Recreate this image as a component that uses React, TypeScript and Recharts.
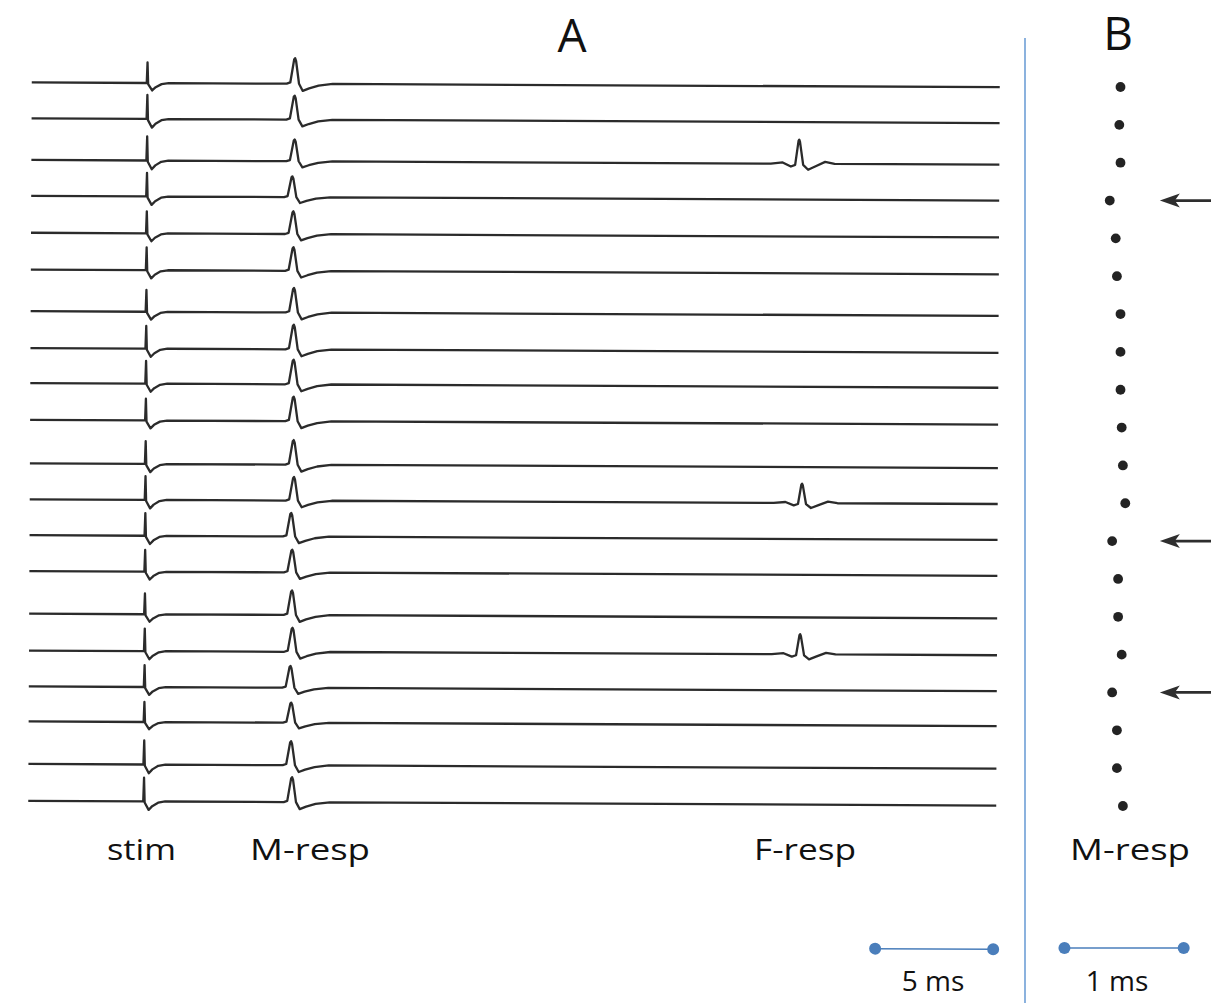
import React from 'react';
import {
  LineChart,
  Line,
  XAxis,
  YAxis,
  ScatterChart,
  Scatter,
  ReferenceLine,
  ReferenceDot,
} from 'recharts';

// ---- Sweep data (time in ms relative to the stimulus, amplitude in mV) ----
const SWEEP_START = -4.9;
const SWEEP_END = 36.1;

// Stacked baseline level of each of the 20 sweeps (top to bottom)
const trialOffsets = [
  40.0, 38.1, 35.9, 34.0, 32.05, 30.1, 27.9, 25.95, 24.1, 22.15,
  19.85, 17.95, 16.05, 14.15, 11.9, 9.95, 8.05, 6.2, 3.95, 2.0,
];

// Stimulus artefact height per sweep
const stimAmp = [
  1.09, 1.27, 1.27, 1.24, 1.16, 1.2, 1.15, 1.2, 1.2, 1.15,
  1.2, 1.25, 1.2, 1.15, 1.1, 1.19, 1.15, 1.06, 1.27, 1.25,
];

// M-response peak latency (ms) and amplitude per sweep
const mLatency = [
  6.25, 6.24, 6.25, 6.16, 6.21, 6.22, 6.25, 6.25, 6.25, 6.26,
  6.27, 6.29, 6.18, 6.23, 6.23, 6.26, 6.18, 6.22, 6.22, 6.27,
];
const mAmp = [
  1.35, 1.27, 1.15, 1.1, 1.2, 1.25, 1.3, 1.3, 1.3, 1.3,
  1.3, 1.25, 1.25, 1.2, 1.3, 1.27, 1.15, 1.06, 1.27, 1.32,
];

// Sweeps that carry an F-response
const fTrials = [3, 12, 16];
const fLatency = [27.62, 27.81, 27.76];
const fAmp = [1.27, 1.03, 1.06];

// Sweeps flagged with an arrow in panel B
const arrowTrials = [4, 13, 17];

// Normalised waveform shapes: [time from event (ms), relative amplitude]
const stimShape: [number, number][] = [
  [-0.03, 0], [0, 1], [0.03, -0.05], [0.2, -0.36], [0.35, -0.2], [0.6, -0.05], [0.9, 0],
];
const mShape: [number, number][] = [
  [-0.35, 0], [-0.2, 0.05], [-0.04, 0.95], [0, 1], [0.04, 0.9], [0.17, 0], [0.33, -0.28],
  [0.6, -0.18], [1.0, -0.07], [1.6, 0],
];
const fShape: [number, number][] = [
  [-1.2, 0], [-0.7, 0.05], [-0.35, -0.12], [-0.17, -0.05], [-0.03, 0.95], [0, 1], [0.03, 0.92],
  [0.17, -0.05], [0.38, -0.25], [0.7, -0.1], [1.1, 0.08], [1.5, 0],
];

type Pt = { t: number; v: number };

const sweeps: Pt[][] = trialOffsets.map((base, i) => {
  const pts: Pt[] = [{ t: SWEEP_START, v: base }];
  stimShape.forEach(([dt, a]) => pts.push({ t: dt, v: base + a * stimAmp[i] }));
  mShape.forEach(([dt, a]) => pts.push({ t: mLatency[i] + dt, v: base + a * mAmp[i] }));
  const f = fTrials.indexOf(i + 1);
  if (f >= 0) {
    fShape.forEach(([dt, a]) => pts.push({ t: fLatency[f] + dt, v: base + a * fAmp[f] }));
  }
  pts.push({ t: SWEEP_END, v: base });
  return pts.sort((a, b) => a.t - b.t);
});

const latencyDots = mLatency.map((lat, i) => ({ lat, trial: i + 1 }));
const ARROW_TIP = 6.58;
const arrowMarks = arrowTrials.map((trial) => ({ lat: ARROW_TIP, trial }));

const W = 1211;
const H = 1003;
const TRACE = '#2b2b2b';
const BLUE = '#4a7ebb';
const FONT = "'Open Sans', 'Liberation Sans', sans-serif";

const Dot = (p: any) => <circle cx={p.cx} cy={p.cy} r={4.9} fill="#232323" />;

const Arrow = (p: any) => {
  const { cx, cy } = p;
  return (
    <g>
      <line x1={cx + 12} y1={cy} x2={cx + 60} y2={cy} stroke="#2e2e2e" strokeWidth={2.8} />
      <path
        d={`M${cx},${cy} L${cx + 20},${cy - 7} L${cx + 15},${cy} L${cx + 20},${cy + 7} Z`}
        fill="#2e2e2e"
      />
    </g>
  );
};

export default function App() {
  return (
    <div
      style={{
        position: 'absolute',
        left: 0,
        top: 0,
        width: W,
        height: H,
        background: '#ffffff',
        overflow: 'hidden',
      }}
    >
      {/* Panel A: stacked sweeps */}
      <div
        style={{
          position: 'absolute',
          left: 0,
          top: 0,
          transform: 'rotate(0.28deg)',
          transformOrigin: '514px 444px',
        }}
      >
        <LineChart width={W} height={H} margin={{ top: 47, right: 213, bottom: 162, left: 30 }}>
          <XAxis type="number" dataKey="t" domain={[SWEEP_START, SWEEP_END]} hide />
          <YAxis type="number" domain={[0, 42]} hide />
          {sweeps.map((d, i) => (
            <Line
              key={i}
              data={d}
              dataKey="v"
              type="linear"
              stroke={TRACE}
              strokeWidth={2.3}
              strokeLinejoin="round"
              dot={false}
              activeDot={false}
              isAnimationActive={false}
            />
          ))}
          <ReferenceLine
            segment={[{ x: 31, y: -5.6 }, { x: 36, y: -5.6 }]}
            stroke={BLUE}
            strokeWidth={1.5}
            ifOverflow="visible"
          />
          <ReferenceDot x={31} y={-5.6} r={6} fill={BLUE} stroke="none" ifOverflow="visible" />
          <ReferenceDot x={36} y={-5.6} r={6} fill={BLUE} stroke="none" ifOverflow="visible" />
        </LineChart>
      </div>

      {/* Panel B: M-response latency per sweep */}
      <div style={{ position: 'absolute', left: 0, top: 0 }}>
        <ScatterChart width={W} height={H} margin={{ top: 87, right: 13, bottom: 197, left: 1043 }}>
          <XAxis type="number" dataKey="lat" domain={[5.6, 6.9]} hide />
          <YAxis type="number" dataKey="trial" domain={[1, 20]} reversed hide />
          <Scatter data={latencyDots} shape={Dot} isAnimationActive={false} />
          <Scatter data={arrowMarks} shape={Arrow} isAnimationActive={false} />
          <ReferenceLine
            segment={[{ x: 5.78, y: 23.75 }, { x: 6.78, y: 23.75 }]}
            stroke={BLUE}
            strokeWidth={1.5}
            ifOverflow="visible"
          />
          <ReferenceDot x={5.78} y={23.75} r={6} fill={BLUE} stroke="none" ifOverflow="visible" />
          <ReferenceDot x={6.78} y={23.75} r={6} fill={BLUE} stroke="none" ifOverflow="visible" />
        </ScatterChart>
      </div>

      {/* Titles, labels and panel divider */}
      <svg
        width={W}
        height={H}
        style={{ position: 'absolute', left: 0, top: 0, pointerEvents: 'none' }}
      >
        <line x1={1025} y1={38} x2={1025} y2={H} stroke="#6f9fd6" strokeWidth={1.6} />
        <g fontFamily={FONT} fill="#111">
          <text x={572} y={52} fontSize={46} textAnchor="middle">A</text>
          <text x={1118} y={50} fontSize={46} textAnchor="middle">B</text>
          <text x={107} y={860} fontSize={30} textLength={69} lengthAdjust="spacingAndGlyphs">stim</text>
          <text x={250} y={860} fontSize={30} textLength={120} lengthAdjust="spacingAndGlyphs">M-resp</text>
          <text x={754} y={860} fontSize={30} textLength={102} lengthAdjust="spacingAndGlyphs">F-resp</text>
          <text x={1070} y={860} fontSize={30} textLength={120} lengthAdjust="spacingAndGlyphs">M-resp</text>
          <text x={933} y={991} fontSize={28} textAnchor="middle">5 ms</text>
          <text x={1117} y={991} fontSize={28} textAnchor="middle">1 ms</text>
        </g>
      </svg>
    </div>
  );
}
